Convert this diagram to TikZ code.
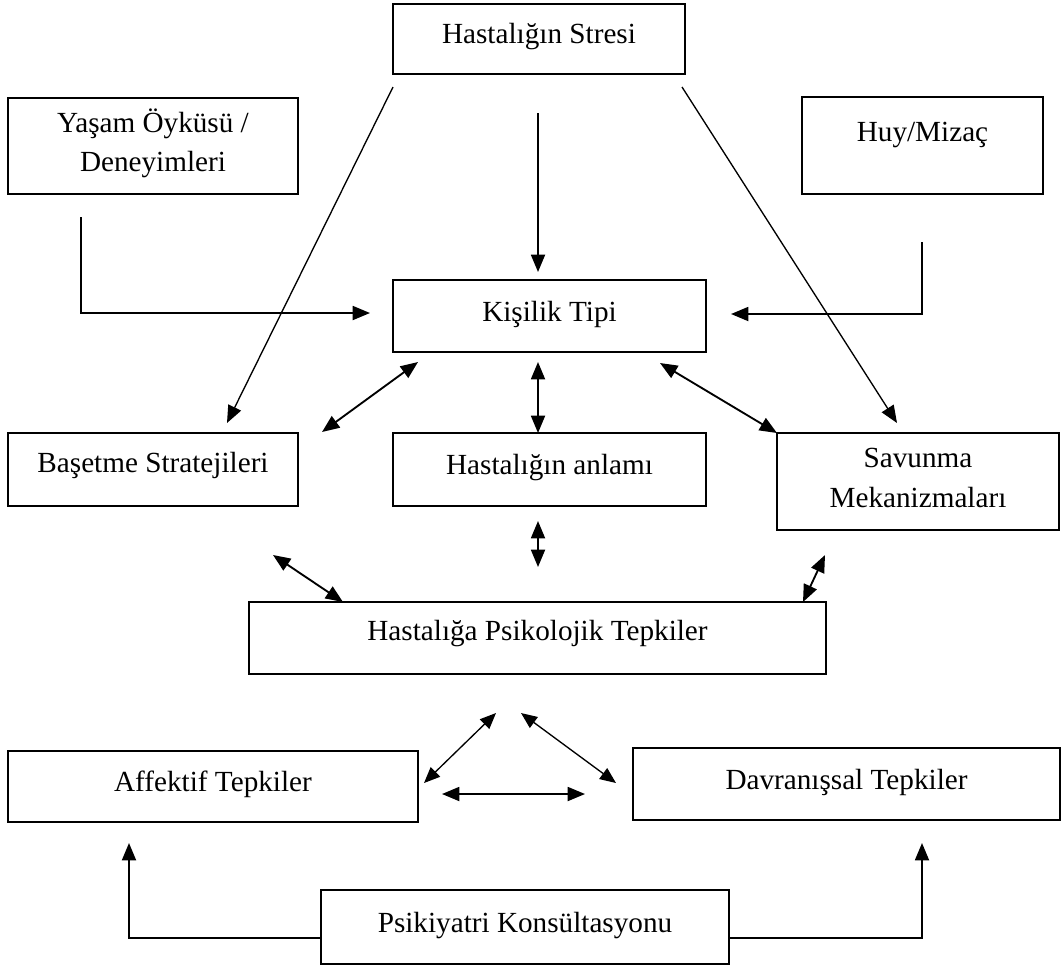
\documentclass[tikz,border=0pt]{standalone}
\usepackage{fontspec}
\setmainfont{Liberation Serif}
\usetikzlibrary{arrows.meta}
\newcommand{\upbox}[2][1.5pt]{\raisebox{#1}[\height][\depth]{#2}}
\newcommand{\twolines}[2]{\begin{tabular}{@{}c@{}}#1\\#2\end{tabular}}
\tikzset{
  box/.style={draw, line width=1.4pt, rectangle, inner sep=0pt, outer sep=0pt,
    font=\fontsize{21.9}{29.5}\selectfont},
  tip/.style={Triangle[length=13pt,width=10.5pt]},
  conn/.style={line width=1.4pt, -{Triangle[length=13pt,width=10.5pt]}},
  thinconn/.style={line width=1pt, -{Triangle[length=13pt,width=10.5pt]}},
  dconn/.style={line width=1.4pt, {Triangle[length=13pt,width=10.5pt]}-{Triangle[length=13pt,width=10.5pt]}},
  dthin/.style={line width=1pt, {Triangle[length=12pt,width=10pt]}-{Triangle[length=12pt,width=10pt]}},
}
\begin{document}
\begin{tikzpicture}[x=0.75pt,y=-0.75pt]
\useasboundingbox (0,0) rectangle (1062,965);
% boxes
\node[box, minimum width=219pt, minimum height=52.5pt] (stresi) at (539,39) {\upbox{Hastalığın Stresi}};
\node[box, minimum width=217.5pt, minimum height=72pt] (yasam) at (153,146) {\upbox{\twolines{Yaşam Öyküsü /}{Deneyimleri}}};
\node[box, minimum width=180.75pt, minimum height=72.75pt] (huy) at (922.5,145.5) {\upbox[8pt]{Huy/Mizaç}};
\node[box, minimum width=234.75pt, minimum height=54pt] (kisilik) at (549.5,316) {\upbox{Kişilik Tipi}};
\node[box, minimum width=217.5pt, minimum height=54.75pt] (basetme) at (153,469.5) {\upbox[3pt]{Başetme Stratejileri}};
\node[box, minimum width=234.75pt, minimum height=54.75pt] (anlam) at (549.5,469.5) {\upbox{Hastalığın anlamı}};
\node[box, minimum width=211.5pt, minimum height=72.75pt] (savunma) at (918,481.5) {\upbox{\twolines{Savunma}{Mekanizmaları}}};
\node[box, minimum width=432.75pt, minimum height=54pt] (psiko) at (537.5,638) {\upbox[3pt]{Hastalığa Psikolojik Tepkiler}};
\node[box, minimum width=307.5pt, minimum height=53.25pt] (affektif) at (213,786.5) {\upbox{Affektif Tepkiler}};
\node[box, minimum width=320.25pt, minimum height=54pt] (davran) at (846.5,784) {\upbox{Davranışsal Tepkiler}};
\node[box, minimum width=306pt, minimum height=55.5pt] (psikiyatri) at (525,927) {\upbox{Psikiyatri Konsültasyonu}};
% connector end points
\coordinate (sL) at (393,87);   \coordinate (bT) at (227,423);
\coordinate (sM) at (538,113);  \coordinate (kT) at (538,272);
\coordinate (sR) at (682,87);   \coordinate (svT) at (897,423);
\coordinate (yS) at (81,217);   \coordinate (kL) at (370,313);
\coordinate (hS) at (922,242);  \coordinate (kR) at (731,314);
\coordinate (bK1) at (322,432); \coordinate (bK2) at (418,362);
\coordinate (kA1) at (538,362); \coordinate (kA2) at (538,433);
\coordinate (kS1) at (660,363); \coordinate (kS2) at (777,433);
\coordinate (aP1) at (538,521); \coordinate (aP2) at (538,567);
\coordinate (bP1) at (273,555); \coordinate (bP2) at (343,602);
\coordinate (sP1) at (825,555); \coordinate (sP2) at (803,602);
\coordinate (pA1) at (496,713); \coordinate (pA2) at (424,783);
\coordinate (pD1) at (521,713); \coordinate (pD2) at (616,783);
\coordinate (aD1) at (442,794); \coordinate (aD2) at (585,794);
\coordinate (kL1) at (321,938); \coordinate (aB) at (129,843);
\coordinate (kR1) at (729,938); \coordinate (dB) at (922,843);
% connectors
\draw[thinconn] (sL) -- (bT);
\draw[conn] (sM) -- (kT);
\draw[thinconn] (sR) -- (svT);
\draw[conn] (yS) |- (kL);
\draw[conn] (hS) |- (kR);
\draw[dconn] (bK1) -- (bK2);
\draw[dconn] (kA1) -- (kA2);
\draw[dconn] (kS1) -- (kS2);
\draw[dconn] (aP1) -- (aP2);
\draw[dconn] (bP1) -- (bP2);
\draw[dconn] (sP1) -- (sP2);
\draw[dthin] (pA1) -- (pA2);
\draw[dthin] (pD1) -- (pD2);
\draw[dconn] (aD1) -- (aD2);
\draw[conn] (kL1) -| (aB);
\draw[conn] (kR1) -| (dB);
\end{tikzpicture}
\end{document}
